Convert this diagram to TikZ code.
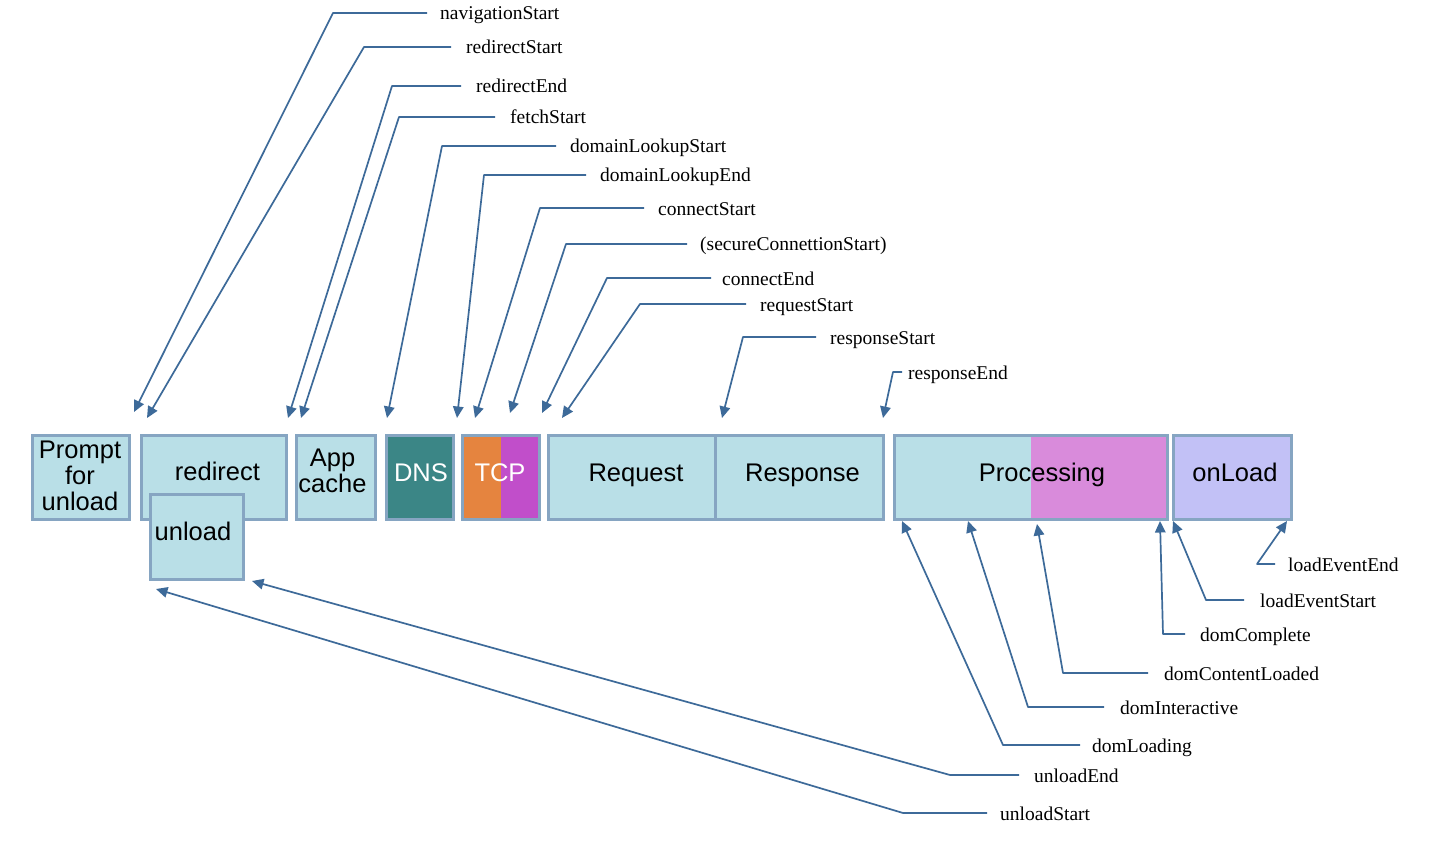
\documentclass[tikz,border=0pt]{standalone}
\usepackage{fontspec}
\setmainfont{Liberation Serif}
\newfontfamily\boxfont{Liberation Sans}
\usetikzlibrary{arrows.meta}
\definecolor{boxfill}{HTML}{B9DFE7}
\definecolor{boxborder}{HTML}{86A5C2}
\definecolor{dnsfill}{HTML}{3B8686}
\definecolor{tcporange}{HTML}{E5843F}
\definecolor{tcpmagenta}{HTML}{C14ECA}
\definecolor{procpink}{HTML}{D98BDB}
\definecolor{onloadfill}{HTML}{C2C1F6}
\definecolor{arrowc}{HTML}{3D6A99}
\begin{document}
\begin{tikzpicture}[x=1pt,y=-1pt,
  box/.style={draw=boxborder, line width=2.8pt, fill=boxfill, inner sep=0pt, anchor=north west},
  boxtext/.style={font=\boxfont\fontsize{25.5}{26}\selectfont, inner sep=0pt, anchor=base},
  boxtextml/.style={font=\boxfont\fontsize{25.5}{26}\selectfont, inner sep=0pt, anchor=center, align=center},
  lbl/.style={font=\fontsize{19.5}{20}\selectfont, inner sep=0pt, anchor=west, text height=14pt, text depth=0pt},
  arr/.style={draw=arrowc, line width=1.7pt, line join=round, -{Triangle[length=11.5pt,width=10.5pt]}},
  lefthalf/.style 2 args={path picture={\fill[#1] (path picture bounding box.north) rectangle (path picture bounding box.south east);}}
]
\useasboundingbox (0,0) rectangle (1436,848);
\fill[white] (0,0) rectangle (1436,848);

% boxes
\node[box, minimum width=97pt, minimum height=84pt] (prompt) at (31,434) {};
\node[box, minimum width=145pt, minimum height=84pt] (redirect) at (140,434) {};
\node[box, minimum width=93pt, minimum height=85pt] (unload) at (149,493) {};
\node[box, minimum width=79pt, minimum height=84pt] (appcache) at (295,434) {};
\node[box, fill=dnsfill, minimum width=67pt, minimum height=84pt] (dns) at (385,434) {};
\node[box, fill=tcporange, lefthalf={tcpmagenta}{}, minimum width=77pt, minimum height=84pt] (tcp) at (461,434) {};
\node[box, minimum width=167pt, minimum height=84pt] (request) at (547,434) {};
\node[box, minimum width=168pt, minimum height=84pt] (response) at (714,434) {};
\node[box, lefthalf={procpink}{}, minimum width=273pt, minimum height=84pt] (processing) at (893,434) {};
\node[box, fill=onloadfill, minimum width=118pt, minimum height=84pt] (onload) at (1172,434) {};

% box texts
\node[boxtextml] (tprompt) at (80,476) {Prompt\\for\\unload};
\node[boxtext] (tredirect) at (217.5,480) {redirect};
\node[boxtext] (tunload) at (193,540) {unload};
\node[boxtextml] (tapp) at (332.5,471) {App\\cache};
\node[boxtext, text=white] (tdns) at (421,481) {DNS};
\node[boxtext, text=white] (ttcp) at (500,481) {TCP};
\node[boxtext] (trequest) at (636,481) {Request};
\node[boxtext] (tresponse) at (802.5,481) {Response};
\node[boxtext] (tprocessing) at (1042,481) {Processing};
\node[boxtext] (tonload) at (1235,481) {onLoad};

% labels and connectors
\foreach \n/\t/\tx/\ly/\cx/\px/\py/\g in {
  nav/{navigationStart}/440/13/333/134/412/13,
  rs/{redirectStart}/466/47/364/147/418/15,
  re/{redirectEnd}/476/86/392/288/418/15,
  fs/{fetchStart}/510/117/399/301/418/15,
  dls/{domainLookupStart}/570/146/442/387/418/14,
  dle/{domainLookupEnd}/600/175/484/457/418/14,
  cs/{connectStart}/658/208/540/475/418/14,
  scs/{(secureConnettionStart)}/700/244/566/510/413/13,
  ce/{connectEnd}/722/278/607/542/413/11,
  rqs/{requestStart}/760/304/640/562/418/14,
  rps/{responseStart}/830/337/743/722/418/14,
  rpe/{responseEnd}/908/372/893/883/418/6,
  lee/{loadEventEnd}/1288/564/1257/1287/521/13,
  les/{loadEventStart}/1260/600/1206/1173/521/16,
  dc/{domComplete}/1200/634/1163/1160/521/15,
  dcl/{domContentLoaded}/1164/673/1063/1037/524/16,
  di/{domInteractive}/1120/707/1028/968/521/16,
  dl/{domLoading}/1092/745/1003/902/521/12,
  ue/{unloadEnd}/1034/775/950/252/581/15,
  us/{unloadStart}/1000/813/903/156/589/13}
{
  \node[lbl] (\n) at (\tx,\ly) {\t};
  \coordinate (\n c) at (\cx,\ly);
  \coordinate (\n t) at (\px,\py);
  \draw[arr] ([xshift=-\g pt]\n.west) -- (\n c) -- (\n t);
}
\end{tikzpicture}
\end{document}
